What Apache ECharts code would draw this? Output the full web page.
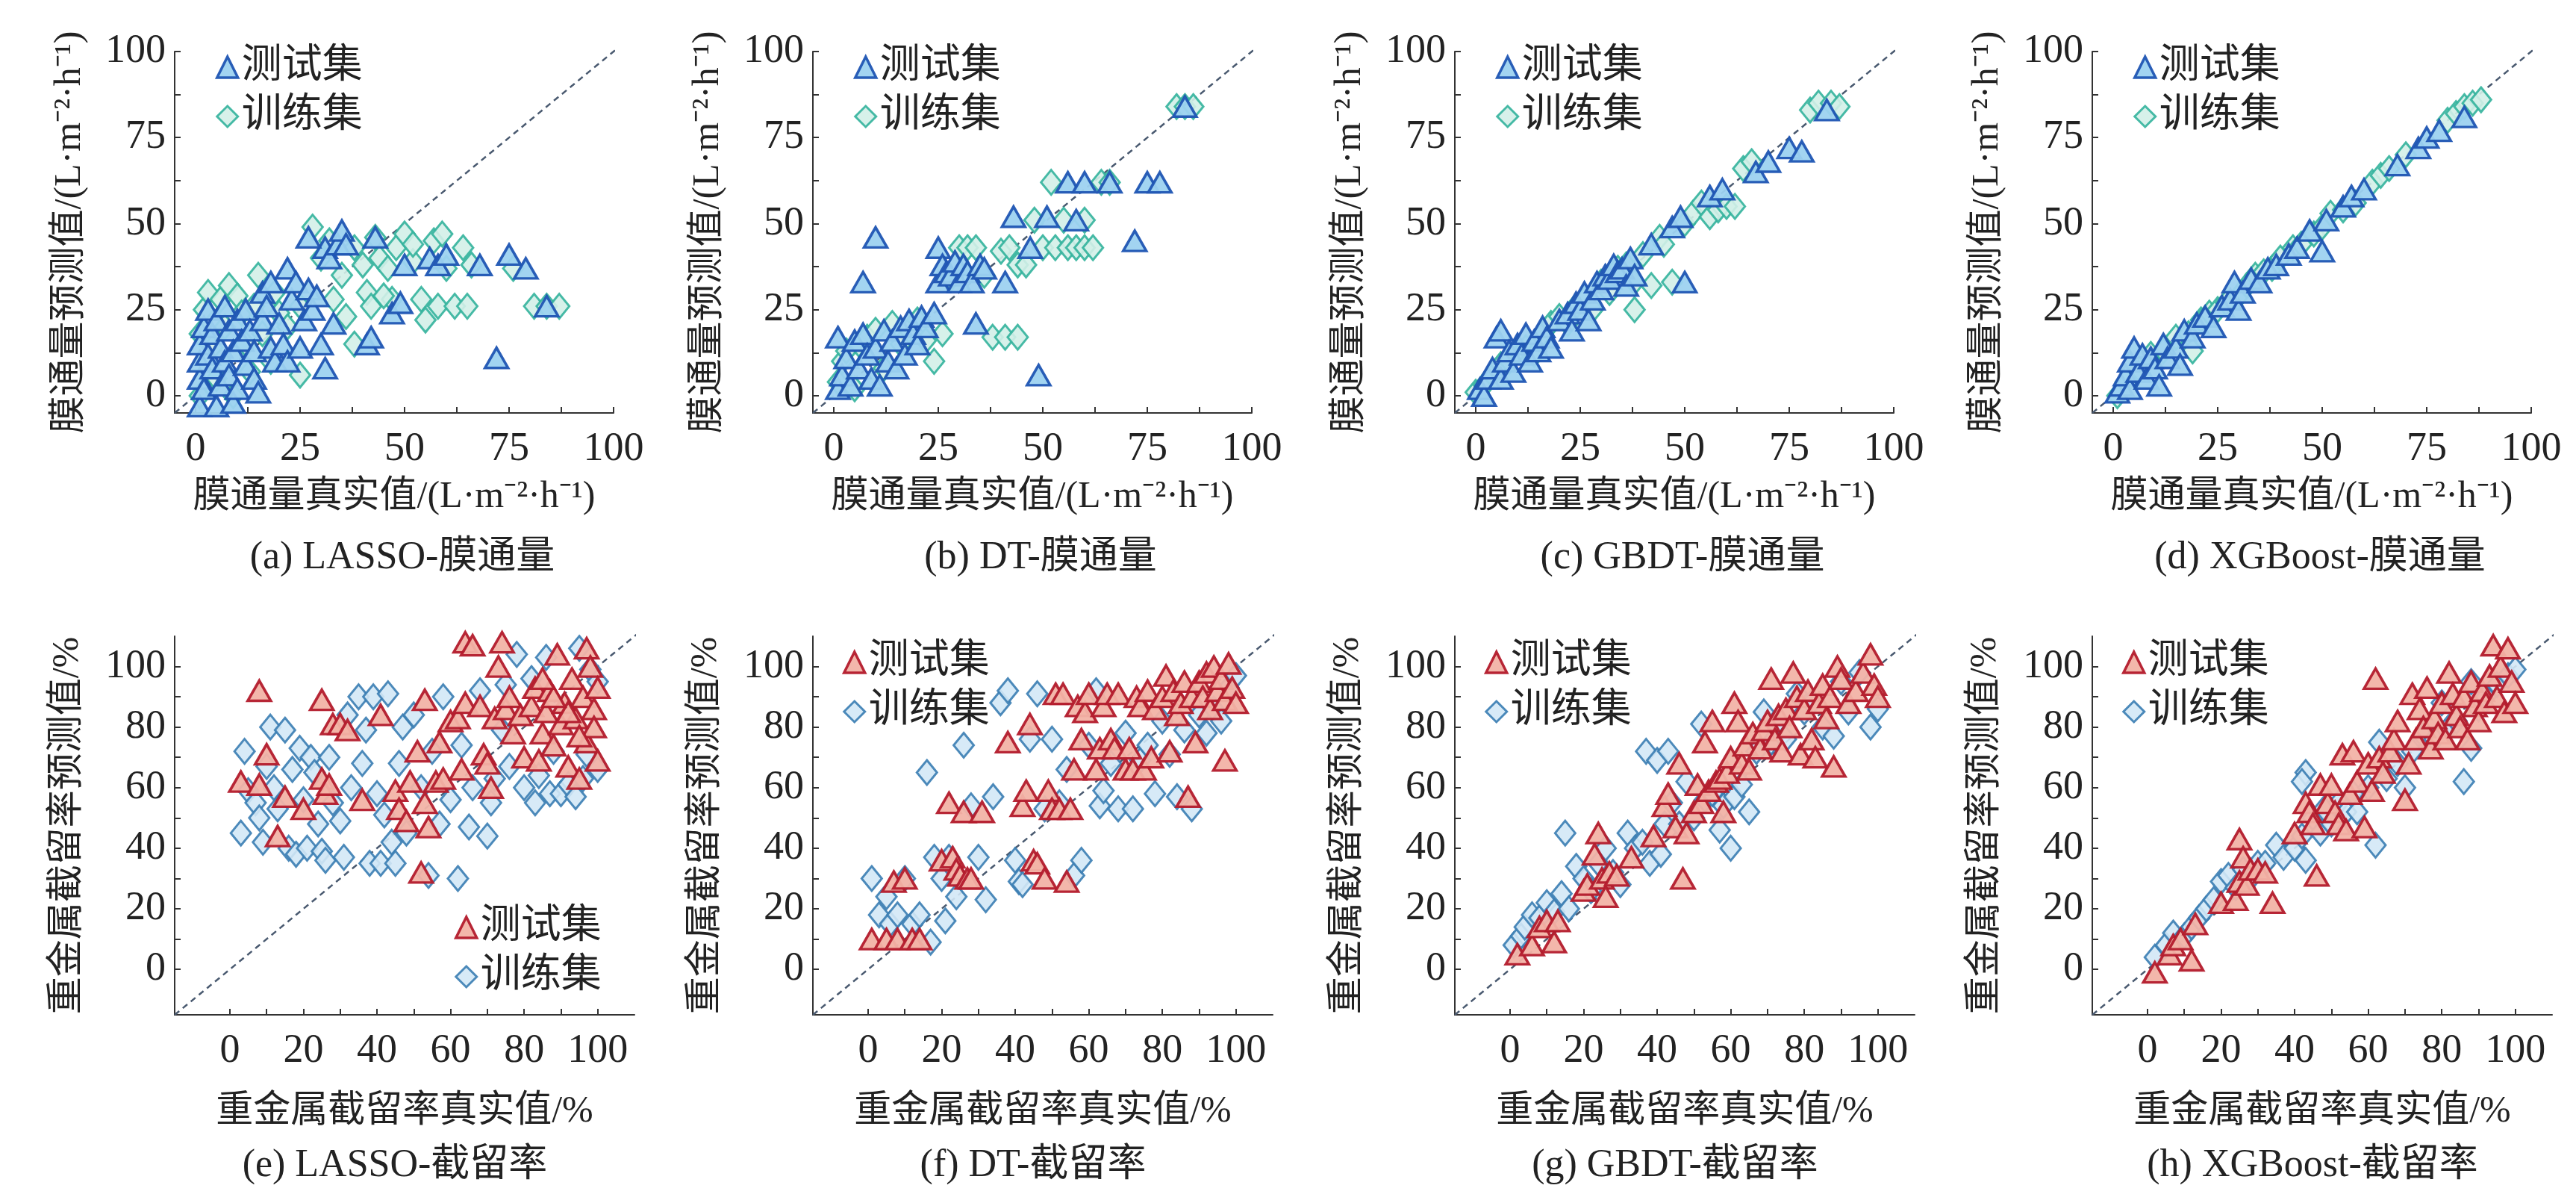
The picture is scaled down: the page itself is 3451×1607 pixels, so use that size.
<!DOCTYPE html>
<html>
<head>
<meta charset="UTF-8">
<title>膜通量与截留率预测</title>
<script src="https://cdn.jsdelivr.net/npm/echarts@6/dist/echarts.min.js"></script>
</head>
<body style="margin:0;background:#fff">
<div id="main" style="width:3451px;height:1607px"></div>
<script>
// 膜通量 (上排) —— [真实值, 预测值]
var lassoFluxTest = [[1,-3],[1,5],[1,10],[1,15],[2,20],[2,2],[3,12],[3,25],[4,8],[4,18],[5,22],[5,-3],[6,3],[6,14],[7,26],[7,10],[8,6],[8,19],[9,-2],[9,13],[10,22],[10,2],[11,16],[12,9],[12,25],[13,19],[14,5],[14,13],[15,1],[16,22],[16,30],[17,26],[18,33],[18,14],[19,10],[20,21],[21,15],[22,37],[22,10],[23,28],[24,33],[25,14],[26,22],[27,31],[28,25],[29,29],[30,15],[31,8],[31,43],[32,40],[33,21],[34,44],[35,48],[36,44],[41,15],[42,17],[43,46],[47,24],[49,27],[50,38],[56,40],[58,38],[60,41],[68,38],[72,11],[75,41],[79,37],[84,26],[27,46]];
var lassoFluxTrain = [[1,0],[1,18],[2,25],[3,30],[4,14],[5,5],[6,28],[7,20],[8,32],[9,0],[10,29],[11,24],[12,15],[13,7],[14,26],[15,35],[16,18],[18,10],[19,30],[20,24],[22,20],[25,6],[25,26],[28,49],[30,40],[32,45],[33,28],[35,35],[36,23],[38,43],[38,15],[40,38],[41,30],[42,26],[43,46],[44,40],[46,37],[47,28],[48,43],[50,47],[52,39],[54,28],[55,22],[57,45],[58,26],[59,47],[60,37],[62,26],[64,43],[65,26],[66,38],[76,37],[81,26],[84,26],[87,26],[52,44],[45,29]];
var dtFluxTest = [[1,2],[1,17],[2,6],[3,11],[4,3],[5,16],[6,8],[7,33],[7,18],[8,12],[9,5],[10,46],[10,14],[11,3],[12,19],[13,10],[14,16],[15,8],[16,20],[17,12],[18,22],[19,18],[20,15],[21,23],[22,20],[24,24],[25,43],[25,33],[26,38],[27,36],[28,35],[29,39],[30,33],[31,38],[32,36],[33,33],[34,21],[35,38],[36,37],[41,33],[43,52],[47,43],[49,6],[51,52],[56,62],[58,51],[60,62],[66,62],[72,45],[75,62],[78,62],[84,84]];
var dtFluxTrain = [[1,4],[2,10],[3,13],[5,2],[6,15],[8,17],[10,19],[12,8],[14,21],[16,15],[18,19],[20,22],[22,16],[24,10],[26,18],[28,34],[30,43],[32,43],[34,43],[36,35],[38,17],[40,42],[41,17],[42,43],[44,17],[44,38],[46,38],[48,51],[50,43],[52,62],[53,43],[55,51],[56,43],[58,43],[60,51],[60,43],[62,43],[64,62],[66,62],[82,84],[84,84],[86,84]];
var gbdtFluxTest = [[1,2],[2,0],[3,5],[4,8],[5,17],[6,19],[6,5],[7,10],[8,13],[9,7],[10,15],[11,12],[12,18],[13,10],[14,16],[15,13],[16,20],[17,17],[18,14],[20,22],[22,24],[23,19],[24,27],[25,25],[26,30],[27,22],[28,28],[29,33],[30,31],[31,35],[32,34],[33,38],[34,36],[35,37],[36,32],[37,40],[38,35],[42,44],[47,49],[49,52],[50,33],[56,58],[59,60],[67,65],[70,68],[75,72],[78,71],[84,83]];
var gbdtFluxTrain = [[0,1],[2,3],[4,6],[6,9],[8,10],[10,13],[12,14],[14,12],[16,18],[18,21],[20,23],[22,21],[24,26],[26,28],[28,25],[30,33],[32,30],[34,37],[36,38],[38,25],[38,33],[40,41],[42,32],[44,46],[45,44],[47,33],[50,50],[52,53],[54,56],[56,52],[58,54],[60,55],[62,55],[64,66],[66,68],[80,83],[82,85],[85,85],[87,84]];
var xgbFluxTest = [[1,1],[2,3],[3,6],[4,2],[4,10],[5,14],[6,7],[7,12],[8,5],[9,11],[10,8],[11,3],[12,15],[13,11],[15,14],[16,9],[17,19],[19,17],[20,21],[22,23],[24,20],[26,26],[28,28],[29,33],[30,25],[31,30],[33,34],[35,33],[37,37],[39,38],[42,41],[44,43],[47,48],[50,42],[51,51],[55,55],[57,58],[60,60],[68,67],[73,72],[75,75],[78,77],[84,81]];
var xgbFluxTrain = [[1,0],[3,4],[6,8],[9,12],[12,13],[15,17],[18,18],[19,13],[21,22],[23,24],[25,25],[27,27],[30,29],[32,32],[34,35],[36,36],[38,37],[40,40],[43,43],[45,44],[48,47],[50,49],[52,53],[55,54],[58,56],[62,62],[64,64],[66,66],[70,70],[80,80],[82,82],[84,84],[86,85],[88,86]];

// 截留率 (下排)
var lassoRejTest = [[3,62],[8,92],[8,61],[10,71],[13,44],[15,57],[20,53],[25,89],[25,63],[26,58],[27,61],[28,81],[30,81],[32,79],[36,56],[41,84],[45,59],[46,53],[48,49],[49,62],[51,72],[52,32],[53,55],[53,89],[54,47],[56,62],[57,75],[58,63],[60,82],[62,83],[63,66],[64,88],[64,108],[66,107],[68,87],[69,71],[70,68],[71,60],[72,83],[73,100],[74,108],[75,86],[76,90],[77,78],[79,84],[80,70],[82,87],[83,93],[84,69],[85,78],[86,85],[87,92],[88,74],[89,104],[90,81],[91,88],[92,67],[93,96],[94,83],[95,63],[96,90],[97,106],[97,75],[98,100],[99,86],[100,69],[100,93],[99,80],[95,77],[92,85],[88,90],[85,96]];
var lassoRejTrain = [[3,45],[4,72],[5,59],[7,55],[8,50],[9,42],[10,67],[11,80],[12,60],[13,53],[15,79],[16,40],[17,66],[18,38],[19,73],[20,56],[21,40],[22,70],[23,65],[24,48],[25,39],[26,36],[27,70],[28,55],[30,49],[31,37],[32,84],[33,60],[35,90],[36,68],[37,79],[38,35],[39,90],[40,58],[41,35],[42,51],[43,91],[44,42],[45,35],[46,68],[47,80],[48,45],[50,84],[52,60],[54,31],[55,72],[57,48],[58,90],[60,56],[62,30],[63,74],[65,47],[66,60],[68,92],[70,44],[71,55],[72,63],[74,79],[75,94],[76,67],[78,104],[80,60],[82,96],[83,55],[84,64],[86,103],[87,58],[88,72],[90,58],[92,61],[94,57],[95,106],[96,63],[97,71],[98,99],[100,66],[100,95]];
var dtRejTest = [[1,10],[5,10],[7,29],[8,10],[10,30],[12,10],[14,10],[20,36],[22,55],[23,37],[24,33],[25,31],[26,52],[27,30],[28,30],[31,52],[38,75],[42,54],[43,59],[44,81],[45,36],[46,35],[48,30],[49,59],[50,53],[51,91],[52,53],[53,91],[54,29],[55,53],[56,66],[57,87],[58,76],[59,85],[60,91],[62,66],[63,73],[64,87],[65,91],[66,76],[67,73],[68,91],[70,66],[71,73],[72,66],[73,90],[74,87],[75,66],[76,92],[77,70],[78,86],[80,90],[81,97],[82,72],[83,92],[84,84],[85,88],[86,95],[87,57],[88,90],[89,75],[90,95],[91,90],[92,98],[93,86],[94,100],[95,92],[96,96],[97,69],[97,89],[98,101],[99,93],[100,88]];
var dtRejTrain = [[1,30],[3,18],[5,24],[6,15],[8,18],[10,30],[12,15],[14,18],[16,65],[17,9],[18,37],[20,30],[21,16],[22,37],[24,24],[26,74],[28,54],[30,37],[32,23],[34,57],[36,88],[38,92],[40,36],[41,29],[42,28],[44,76],[46,91],[48,53],[50,76],[52,55],[54,66],[56,31],[58,36],[60,74],[62,92],[63,54],[64,59],[66,68],[68,53],[70,78],[72,53],[74,69],[76,74],[78,58],[80,82],[82,71],[84,57],[86,79],[88,53],[90,84],[92,78],[94,86],[96,82],[98,93],[100,97]];
var gbdtRejTest = [[2,5],[6,8],[8,14],[10,16],[12,9],[13,16],[20,26],[21,28],[23,38],[24,45],[25,30],[26,24],[27,32],[29,31],[33,37],[39,44],[42,54],[43,58],[45,47],[46,68],[47,30],[48,45],[50,52],[51,61],[52,55],[53,75],[54,59],[55,82],[56,62],[57,63],[58,52],[59,65],[60,70],[61,88],[62,82],[63,68],[64,74],[65,66],[66,78],[68,73],[69,79],[70,82],[71,96],[72,76],[73,84],[74,72],[75,86],[76,80],[77,98],[78,90],[79,71],[80,86],[81,92],[82,76],[83,70],[84,88],[85,94],[86,83],[87,90],[88,67],[89,100],[90,96],[92,88],[94,92],[96,98],[98,104],[99,94],[100,90]];
var gbdtRejTrain = [[1,8],[3,11],[4,14],[6,18],[8,17],[10,22],[12,19],[14,25],[15,45],[16,20],[18,34],[20,30],[22,26],[24,35],[26,40],[28,32],[30,28],[32,45],[34,40],[36,42],[37,72],[38,35],[40,69],[41,38],[42,48],[43,72],[44,55],[46,48],[48,62],[50,50],[52,81],[53,56],[55,58],[57,46],[58,54],[60,40],[61,57],[63,61],[65,52],[67,72],[69,85],[71,75],[73,82],[75,76],[78,91],[80,85],[82,88],[85,80],[88,77],[90,95],[92,85],[95,98],[98,80],[100,86]];
var xgbRejTest = [[2,-1],[6,5],[7,8],[9,10],[12,3],[13,15],[20,22],[24,23],[25,29],[25,43],[26,37],[27,28],[28,33],[30,33],[32,32],[34,22],[40,45],[43,55],[44,52],[45,48],[46,31],[47,61],[49,55],[50,61],[51,52],[52,48],[53,71],[54,46],[55,58],[56,72],[57,62],[59,47],[60,68],[61,59],[62,96],[63,70],[64,65],[66,72],[67,76],[68,82],[70,56],[71,68],[72,91],[73,76],[74,86],[75,80],[76,93],[77,73],[78,83],[79,78],[80,88],[81,76],[82,98],[83,91],[84,84],[85,80],[86,90],[87,76],[88,95],[89,87],[90,82],[91,92],[92,88],[93,97],[94,107],[95,90],[96,100],[97,85],[98,106],[99,95],[100,88]];
var xgbRejTrain = [[2,4],[5,8],[7,12],[10,11],[12,14],[14,17],[16,20],[18,23],[20,29],[22,31],[24,27],[26,33],[28,30],[30,35],[32,35],[35,41],[37,37],[40,40],[42,44],[43,65],[42,62],[43,36],[45,50],[47,45],[48,53],[50,48],[52,55],[54,52],[56,58],[57,52],[60,60],[62,41],[63,75],[65,63],[68,68],[70,60],[72,72],[75,77],[78,76],[80,88],[82,80],[84,82],[86,62],[88,73],[88,95],[90,86],[92,90],[95,94],[98,97],[100,99]];

var fluxTicks = [0, 25, 50, 75, 100];
var rejTicks = [0, 20, 40, 60, 80, 100];
var panelTitles = ['(a) LASSO-膜通量', '(b) DT-膜通量', '(c) GBDT-膜通量', '(d) XGBoost-膜通量',
                   '(e) LASSO-截留率', '(f) DT-截留率', '(g) GBDT-截留率', '(h) XGBoost-截留率'];

var panels = [
  [lassoFluxTest, lassoFluxTrain], [dtFluxTest, dtFluxTrain], [gbdtFluxTest, gbdtFluxTrain], [xgbFluxTest, xgbFluxTrain],
  [lassoRejTest, lassoRejTrain], [dtRejTest, dtRejTrain], [gbdtRejTest, gbdtRejTrain], [xgbRejTest, xgbRejTrain]
];

var FONT = "'Liberation Serif', 'Noto Sans CJK SC', serif";
var lefts = [234, 1089, 1949, 2803];
var grid = [], xAxis = [], yAxis = [], series = [], legend = [], title = [];

function minors(ticks) {
  var out = [];
  for (var i = 0; i < ticks.length; i++) {
    out.push(ticks[i]);
    if (i < ticks.length - 1) out.push((ticks[i] + ticks[i + 1]) / 2);
  }
  return out;
}

panels.forEach(function (p, i) {
  var top = i < 4;
  var col = i % 4;
  var ticks = top ? fluxTicks : rejTicks;
  var lo = top ? -5 : -15, hi = top ? 100 : 110;
  var testStyle = top
    ? { color: '#9dd2f0', borderColor: '#1f55b3', borderWidth: 3.5 }
    : { color: '#f2b3a6', borderColor: '#b31b2c', borderWidth: 3.5 };
  var trainStyle = top
    ? { color: '#d3efe8', borderColor: '#33b39c', borderWidth: 3 }
    : { color: '#d3e8f6', borderColor: '#3a7db3', borderWidth: 3 };
  grid.push(top
    ? { left: lefts[col], top: 69, width: 588, height: 484 }
    : { left: lefts[col], top: 852, width: 616, height: 507 });
  var axisCommon = {
    gridIndex: i, type: 'value', min: lo, max: hi,
    splitLine: { show: false },
    axisLine: { show: true, onZero: false, lineStyle: { color: '#333', width: 2 } },
    axisTick: { show: true, inside: true, length: 8, customValues: minors(ticks), lineStyle: { color: '#333', width: 2 } },
    axisLabel: { customValues: ticks, color: '#222', fontFamily: FONT, fontSize: 54 },
    nameLocation: 'middle',
    nameTextStyle: { color: '#222', fontFamily: FONT, fontSize: 50 }
  };
  xAxis.push(Object.assign({}, axisCommon, {
    name: top ? '膜通量真实值/(L·m⁻²·h⁻¹)' : '重金属截留率真实值/%',
    nameGap: top ? 88 : 105,
    axisLabel: Object.assign({}, axisCommon.axisLabel, { margin: 22 })
  }));
  yAxis.push(Object.assign({}, axisCommon, {
    name: top ? '膜通量预测值/(L·m⁻²·h⁻¹)' : '重金属截留率预测值/%',
    nameGap: top ? 115 : 118,
    axisLabel: Object.assign({}, axisCommon.axisLabel, { margin: 12 })
  }));
  series.push({
    type: 'line', xAxisIndex: i, yAxisIndex: i, silent: true, clip: false,
    data: [[lo, lo], [hi + 4, hi + 4]], symbol: 'none',
    lineStyle: { color: '#4a5a70', width: 2.5, type: [8, 6] }, z: 1
  });
  series.push({
    name: '训练集', type: 'scatter', xAxisIndex: i, yAxisIndex: i, data: p[1],
    symbol: 'diamond', symbolSize: [27, 33],
    itemStyle: Object.assign({ opacity: 0.9 }, trainStyle), z: 2
  });
  series.push({
    name: '测试集', type: 'scatter', xAxisIndex: i, yAxisIndex: i, data: p[0],
    symbol: 'triangle', symbolSize: [31, 27],
    itemStyle: Object.assign({ opacity: 0.95 }, testStyle), z: 3
  });
  var lg = {
    orient: 'vertical', itemGap: 12, itemWidth: 28, itemHeight: 28,
    data: [
      { name: '测试集', icon: 'triangle', itemStyle: testStyle },
      { name: '训练集', icon: 'diamond', itemStyle: trainStyle }
    ],
    textStyle: { fontFamily: FONT, fontSize: 54, color: '#222' },
    selectedMode: false
  };
  if (i === 4) { lg.left = lefts[col] + 370; lg.top = 1210; }
  else if (top) { lg.left = lefts[col] + 50; lg.top = 58; }
  else { lg.left = lefts[col] + 35; lg.top = 855; }
  legend.push(lg);
  title.push({
    text: panelTitles[i], left: lefts[col] + (top ? 300 : 290), top: top ? 716 : 1530, textAlign: 'center',
    textStyle: { fontFamily: FONT, fontSize: 52, fontWeight: 'normal', color: '#222' }
  });
});

var chart = echarts.init(document.getElementById('main'));
chart.setOption({
  animation: false,
  backgroundColor: '#fff',
  title: title, grid: grid, xAxis: xAxis, yAxis: yAxis, legend: legend, series: series
});
</script>
</body>
</html>
